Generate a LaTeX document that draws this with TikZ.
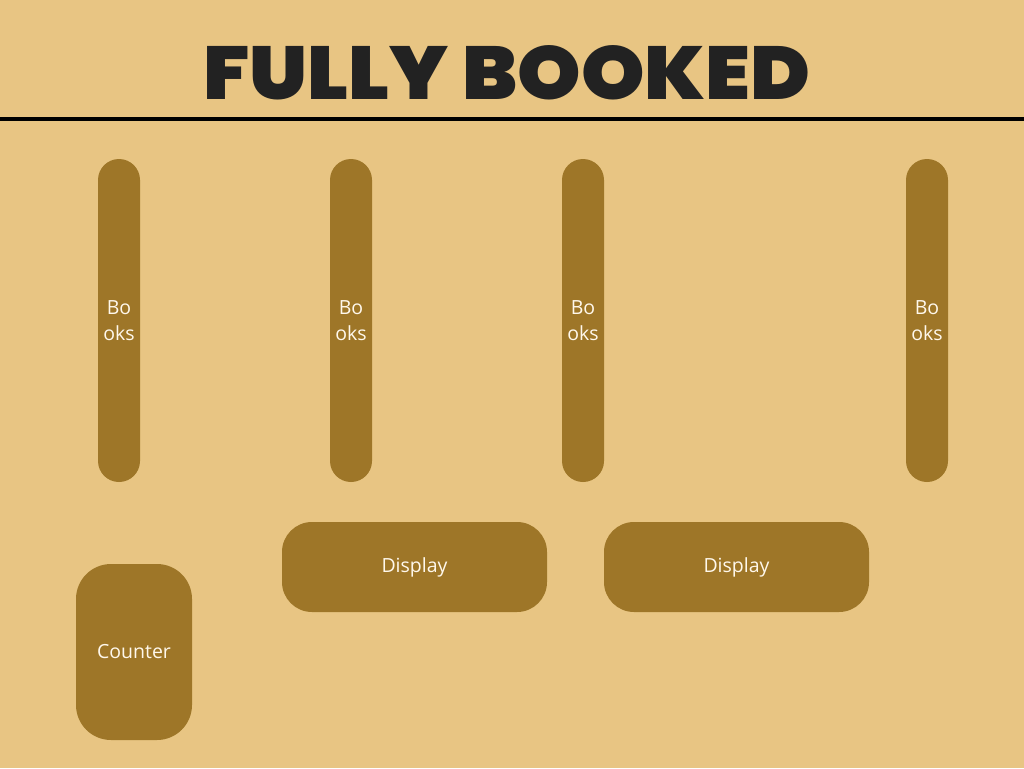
\documentclass[tikz,border=0pt]{standalone}
\usepackage{fontspec}
\setmainfont{Open Sans}
\newfontfamily\titlefont{Poppins Black}
\definecolor{bg}{HTML}{E8C583}
\definecolor{box}{HTML}{9E7628}
\definecolor{ink}{HTML}{222222}
\definecolor{lbl}{HTML}{FFF8EC}
\tikzset{
  lblfont/.style={text=lbl, font=\fontsize{19.5}{26}\selectfont},
  shelf/.style={fill=box, draw=none, rounded corners=21pt, minimum width=42pt, minimum height=323pt, inner sep=0pt, align=center, lblfont},
  displaybox/.style={fill=box, draw=none, rounded corners=30pt, minimum width=265pt, minimum height=90pt, inner sep=0pt, lblfont},
  counterbox/.style={fill=box, draw=none, rounded corners=35pt, minimum width=116pt, minimum height=176pt, inner sep=0pt, lblfont}
}
\begin{document}
\begin{tikzpicture}[x=1pt,y=-1pt]
\fill[bg] (0,0) rectangle (1024,768);
\useasboundingbox (0,0) rectangle (1024,768);
\node[text=ink, inner sep=0pt] (title) at (507,73) {\resizebox{607pt}{54pt}{\titlefont FULLY BOOKED}};
\draw[black, line width=3.5pt] (0,119) -- (1024,119);
\node[shelf] (b1) at (119,320.5) {Bo\\oks};
\node[shelf] (b2) at (351,320.5) {Bo\\oks};
\node[shelf] (b3) at (583,320.5) {Bo\\oks};
\node[shelf] (b4) at (927,320.5) {Bo\\oks};
\node[displaybox] (d1) at (414.5,567) {Display};
\node[displaybox] (d2) at (736.5,567) {Display};
\node[counterbox] (c) at (134,652) {Counter};
\end{tikzpicture}
\end{document}
